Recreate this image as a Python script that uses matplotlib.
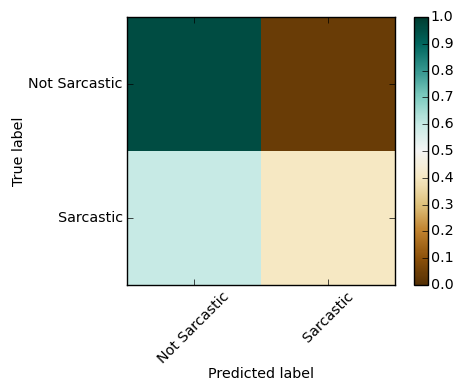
import matplotlib
matplotlib.use('Agg')
import matplotlib.pyplot as plt
import numpy as np

#labels and normalized confusion matrix values
classes = ['Not Sarcastic', 'Sarcastic']
row_not_sarcastic = [0.96, 0.04]
row_sarcastic = [0.60, 0.40]

plt.style.use('classic')
fig = plt.figure(figsize=(4.56, 3.81), dpi=100)
ax = fig.add_axes([127/456, 1-285/381, 268/456, 268/381])
cax = fig.add_axes([414/456, 1-285/381, 14/456, 268/381])

cm = np.array([row_not_sarcastic, row_sarcastic])
im = ax.imshow(cm, interpolation='nearest', cmap=plt.cm.BrBG, vmin=0, vmax=1, aspect='auto')
cb = fig.colorbar(im, cax=cax, ticks=np.arange(0, 1.01, 0.1))
cb.ax.tick_params(labelsize=10.3, pad=2)

ticks = np.arange(len(classes))
ax.set_xticks(ticks)
ax.set_xticklabels(classes, rotation=45, fontsize=10.3)
ax.set_yticks(ticks)
ax.set_yticklabels(classes, fontsize=10.3)
ax.tick_params(pad=3)
ax.set_ylabel('True label', fontsize=10.3, labelpad=2)
ax.set_xlabel('Predicted label', fontsize=10.3)
#pull the x label up so it fits in the figure
ax.xaxis.set_label_coords(0.5, -0.305)

fig.savefig('out.png', dpi=100)
